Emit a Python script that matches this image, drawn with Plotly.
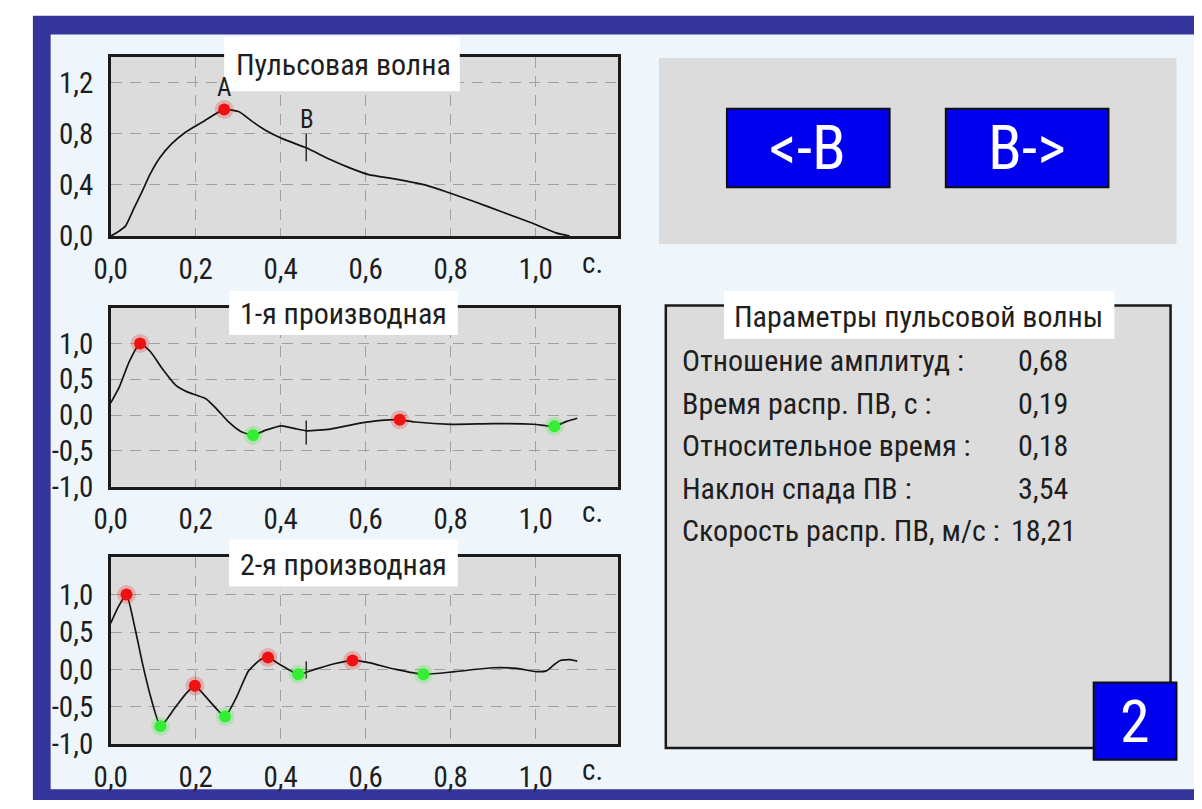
import plotly.graph_objects as go

W, H = 1202, 809

# ---------------- data ----------------
time_ticks = [0.0, 0.2, 0.4, 0.6, 0.8, 1.0]
wave_ticks = [0.0, 0.4, 0.8, 1.2]
deriv_ticks = [-1.0, -0.5, 0.0, 0.5, 1.0]
time_unit = "с."

wave_t = [0, 0.02, 0.035, 0.055, 0.074, 0.092, 0.115, 0.143, 0.175, 0.22, 0.267,
          0.303, 0.331, 0.363, 0.405, 0.46, 0.515, 0.561, 0.607, 0.671, 0.745,
          0.791, 0.855, 0.92, 0.993, 1.048, 1.08]
wave_v = [0, 0.04, 0.08, 0.22, 0.35, 0.48, 0.61, 0.72, 0.81, 0.9, 0.99,
          0.97, 0.9, 0.83, 0.76, 0.69, 0.6, 0.535, 0.48, 0.445, 0.395,
          0.345, 0.27, 0.19, 0.1, 0.025, 0.0]
wave_peak_t = [0.267]
wave_peak_v = [0.99]

d1_t = [0, 0.02, 0.043, 0.069, 0.094, 0.121, 0.154, 0.181, 0.223, 0.25, 0.278,
        0.306, 0.335, 0.365, 0.402, 0.434, 0.462, 0.517, 0.581, 0.636, 0.68,
        0.717, 0.8, 0.9, 0.995, 1.044, 1.073, 1.098]
d1_v = [0.17, 0.39, 0.74, 1.0, 0.88, 0.65, 0.41, 0.32, 0.23, 0.08, -0.1,
        -0.23, -0.28, -0.21, -0.15, -0.19, -0.22, -0.195, -0.12, -0.075, -0.066,
        -0.097, -0.13, -0.12, -0.128, -0.155, -0.088, -0.044]
d1_max_t = [0.069, 0.68]
d1_max_v = [1.0, -0.066]
d1_min_t = [0.335, 1.044]
d1_min_v = [-0.28, -0.155]

d2_t = [0, 0.018, 0.037, 0.057, 0.075, 0.094, 0.117, 0.149, 0.176, 0.198, 0.232,
        0.269, 0.296, 0.324, 0.352, 0.37, 0.397, 0.441, 0.48, 0.526, 0.569,
        0.607, 0.671, 0.736, 0.81, 0.9, 0.956, 1.002, 1.025, 1.044, 1.058,
        1.081, 1.098]
d2_v = [0.62, 0.84, 1.0, 0.55, 0.07, -0.37, -0.76, -0.53, -0.33, -0.22, -0.42,
        -0.63, -0.37, -0.02, 0.13, 0.16, 0.07, -0.066, 0.0, 0.075, 0.12,
        0.09, 0.0, -0.066, -0.03, 0.022, 0.013, -0.03, -0.02, 0.066, 0.12,
        0.13, 0.11]
d2_max_t = [0.037, 0.198, 0.37, 0.569]
d2_max_v = [1.0, -0.22, 0.16, 0.12]
d2_min_t = [0.117, 0.269, 0.441, 0.736]
d2_min_v = [-0.76, -0.63, -0.066, -0.066]

point_B_t = 0.46
mark_B_wave = [0.585, 0.80]
mark_B_d1 = [-0.075, -0.41]
mark_B_d2 = [0.11, -0.12]

panel_titles = ["Пульсовая волна", "1-я производная", "2-я производная"]
params_title = "Параметры пульсовой волны"
param_names = ["Отношение амплитуд :", "Время распр. ПВ, с :", "Относительное время :",
               "Наклон спада ПВ :", "Скорость распр. ПВ, м/с :"]
param_values = ["0,68", "0,19", "0,18", "3,54", "18,21"]
nav_buttons = ["<-B", "B->"]
page_label = "2"

# ---------------- style ----------------
FONT = "Roboto Condensed, Liberation Sans Narrow, Arial Narrow, Roboto, sans-serif"
TXT = "#1e1e1e"
FRAME = "#34349a"
INNER = "#eef6fc"
PANEL = "#dcdcdc"
BTN = "#0000ee"
RED = "#ee1111"
GREEN = "#33ee33"
GRID = "#a0a0a0"


def px(x):
    return x / W


def py(y):
    return 1 - y / H


def lab(v):
    return f"{v:.1f}".replace(".", ",")


fig = go.Figure()

# plot boxes (pixel y top, bottom)
boxes = [(50, 233), (306, 489), (561, 752)]
X0, X1 = 87, 602
yranges = [[0, 1.4], [-1, 1.5], [-1, 1.5]]
yticks = [wave_ticks, deriv_ticks, deriv_ticks]
xrange_ = [0, 1.195]


def ax(k):
    return ("x", "y") if k == 1 else (f"x{k}", f"y{k}")


def add_curve(t, v, k):
    xa, ya = ax(k)
    fig.add_trace(go.Scatter(x=t, y=v, mode="lines", xaxis=xa, yaxis=ya,
                             line=dict(color="#141414", width=1.7, shape="spline", smoothing=0.5),
                             showlegend=False, hoverinfo="skip"))


def add_marks(t, v, color, k):
    xa, ya = ax(k)
    fig.add_trace(go.Scatter(x=t, y=v, mode="markers", xaxis=xa, yaxis=ya,
                             marker=dict(color=color, size=19, opacity=0.22, line=dict(width=0)),
                             showlegend=False, hoverinfo="skip"))
    fig.add_trace(go.Scatter(x=t, y=v, mode="markers", xaxis=xa, yaxis=ya,
                             marker=dict(color=color, size=12, line=dict(width=0)),
                             showlegend=False, hoverinfo="skip"))


def add_B(seg, k):
    xa, ya = ax(k)
    fig.add_trace(go.Scatter(x=[point_B_t, point_B_t], y=seg, mode="lines", xaxis=xa, yaxis=ya,
                             line=dict(color="#141414", width=1.3),
                             showlegend=False, hoverinfo="skip"))


add_curve(wave_t, wave_v, 1)
add_B(mark_B_wave, 1)
add_marks(wave_peak_t, wave_peak_v, RED, 1)

add_curve(d1_t, d1_v, 2)
add_B(mark_B_d1, 2)
add_marks(d1_max_t, d1_max_v, RED, 2)
add_marks(d1_min_t, d1_min_v, GREEN, 2)

add_curve(d2_t, d2_v, 3)
add_B(mark_B_d2, 3)
add_marks(d2_max_t, d2_max_v, RED, 3)
add_marks(d2_min_t, d2_min_v, GREEN, 3)

layout = dict(
    width=W, height=H, autosize=False,
    margin=dict(l=0, r=0, t=0, b=0, pad=0),
    paper_bgcolor="white", plot_bgcolor="rgba(0,0,0,0)",
    font=dict(family=FONT, color=TXT, size=29),
    showlegend=False,
)

for i, (top, bot) in enumerate(boxes):
    k = i + 1
    xn = "xaxis" if k == 1 else f"xaxis{k}"
    yn = "yaxis" if k == 1 else f"yaxis{k}"
    xa, ya = ax(k)
    layout[xn] = dict(domain=[px(X0), px(X1)], range=xrange_, anchor=ya,
                      tickvals=time_ticks, ticktext=[lab(v) for v in time_ticks],
                      showgrid=True, gridcolor=GRID, griddash="11px,8px", gridwidth=1,
                      showline=True, mirror=True, linecolor="#1a1a1a", linewidth=2.5,
                      ticks="", ticklabelstandoff=5, zeroline=False, fixedrange=True,
                      tickfont=dict(size=29, family=FONT, color=TXT))
    layout[yn] = dict(domain=[py(bot), py(top)], range=yranges[i], anchor=xa,
                      tickvals=yticks[i], ticktext=[lab(v) for v in yticks[i]],
                      showgrid=True, gridcolor=GRID, griddash="11px,8px", gridwidth=1,
                      showline=True, mirror=True, linecolor="#1a1a1a", linewidth=2.5,
                      ticks="", ticklabelstandoff=9, zeroline=False, fixedrange=True,
                      tickfont=dict(size=29, family=FONT, color=TXT))

shapes = []


def rect(x0, y0, x1, y1, fill, line_color=None, lw=0, layer="below"):
    shapes.append(dict(type="rect", xref="paper", yref="paper",
                       x0=px(x0), x1=px(x1), y0=py(y1), y1=py(y0),
                       fillcolor=fill, layer=layer,
                       line=dict(color=line_color or fill, width=lw)))


# blue frame and inner area
rect(8, 8, 1202, 809, FRAME)
rect(26, 27, 1192, 798, INNER)
# plot backgrounds
for top, bot in boxes:
    rect(X0, top, X1, bot, PANEL)

# title boxes over charts
title_boxes = [(202, 29, 441, 85), (207, 289, 439, 334), (207, 543, 439, 591)]
for (a, b, c, d) in title_boxes:
    rect(a, b, c, d, "white", layer="above")

# right top panel + buttons
rect(643, 51, 1168, 241, PANEL)
rect(712, 103, 877, 183, BTN, "#101010", 2)
rect(934, 103, 1099, 183, BTN, "#101010", 2)

# params panel
rect(650, 304, 1162, 756, PANEL, "#1a1a1a", 2.5)
rect(709, 289, 1105, 338, "white")
rect(1084, 689, 1168, 768, BTN, "#101010", 2)

layout["shapes"] = shapes

ann = []


def text(x, y, s, size=29, color=TXT, xanchor="center", xref="paper", xv=None):
    ann.append(dict(x=px(x) if xv is None else xv, y=py(y), xref=xref, yref="paper", text=s,
                    showarrow=False, xanchor=xanchor, yanchor="middle",
                    font=dict(size=size, color=color, family=FONT)))


title_y = [58, 312, 568]
for s, yy in zip(panel_titles, title_y):
    text(323, yy, s, size=30)

# unit labels
unit_y = [260, 515, 778]
for i, yy in enumerate(unit_y):
    text(0, yy, time_unit, size=29, xref=ax(i + 1)[0], xv=1.135)

# A and B labels on the pulse wave
ann.append(dict(x=wave_peak_t[0], y=wave_peak_v[0] + 0.17, xref="x", yref="y", text="A",
                showarrow=False, font=dict(size=25, color=TXT, family=FONT)))
ann.append(dict(x=point_B_t + 0.003, y=mark_B_wave[1] + 0.11, xref="x", yref="y", text="B",
                showarrow=False, font=dict(size=25, color=TXT, family=FONT)))

# buttons
text(794, 143, nav_buttons[0], size=62, color="white")
text(1016, 143, nav_buttons[1], size=62, color="white")

# params
text(906, 315, params_title, size=30)
for i, (n, v) in enumerate(zip(param_names, param_values)):
    yy = 360 + 43.5 * i
    text(664, yy, n, size=30, xanchor="left")
    text(1033, yy, v, size=30)

text(1126, 729, page_label, size=60, color="white")

layout["annotations"] = ann
fig.update_layout(**layout)
fig.write_html("out.html")
